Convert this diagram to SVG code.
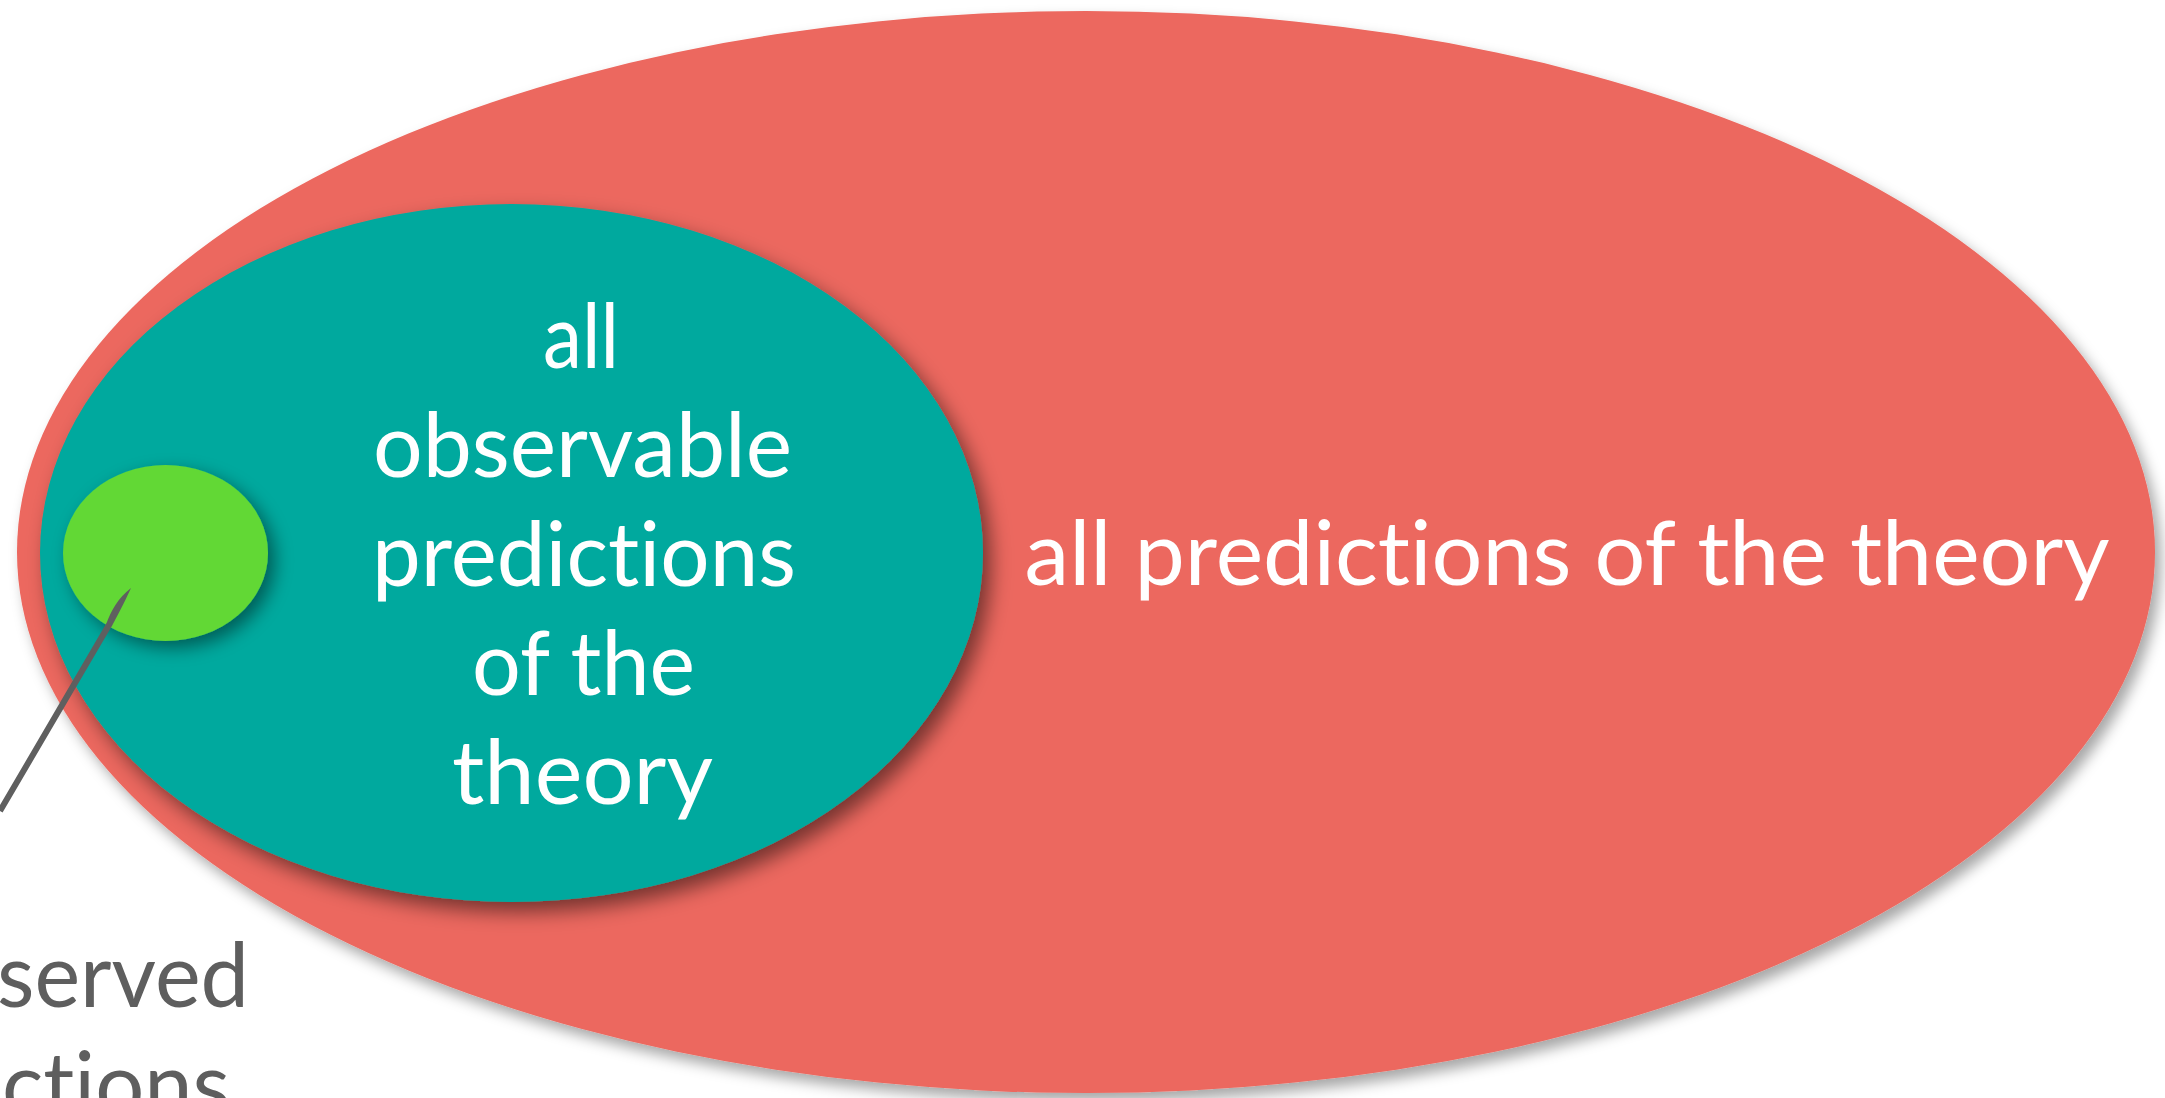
<svg xmlns="http://www.w3.org/2000/svg" width="2165" height="1098" viewBox="0 0 2165 1098">
  <defs>
    <style>
      .lbl { font-family: "Lato", "Open Sans", "Liberation Sans", sans-serif; font-size: 90px; font-variant-ligatures: none; font-feature-settings: "liga" 0, "clig" 0, "dlig" 0; }
      .white { fill: #ffffff; }
      .gray { fill: #5e5e5e; }
    </style>
    <filter id="shRed" x="-10%" y="-10%" width="120%" height="125%">
      <feDropShadow dx="6" dy="8" stdDeviation="7" flood-color="#000000" flood-opacity="0.35"/>
    </filter>
    <filter id="shTeal" x="-10%" y="-10%" width="125%" height="125%">
      <feDropShadow dx="8" dy="10" stdDeviation="10" flood-color="#000000" flood-opacity="0.5"/>
    </filter>
    <filter id="shGreen" x="-20%" y="-20%" width="145%" height="150%">
      <feDropShadow dx="7" dy="7" stdDeviation="9" flood-color="#000000" flood-opacity="0.45"/>
    </filter>
  </defs>
  <rect width="2165" height="1098" fill="#ffffff"/>

  <g id="node-all-predictions">
    <ellipse cx="1086" cy="552" rx="1069" ry="541" fill="#ec675e" filter="url(#shRed)"/>
    <text class="lbl white" x="1024.5" y="585" textLength="1085" lengthAdjust="spacingAndGlyphs">all predictions of the theory</text>
  </g>

  <g id="node-observable-predictions">
    <ellipse cx="511.5" cy="553" rx="471.5" ry="349" fill="#02a99e" filter="url(#shTeal)"/>
    <text class="lbl white" x="543" y="368" textLength="76" lengthAdjust="spacingAndGlyphs">all</text>
    <text class="lbl white" x="373" y="477" textLength="419" lengthAdjust="spacingAndGlyphs">observable</text>
    <text class="lbl white" x="372" y="586" textLength="424" lengthAdjust="spacingAndGlyphs">predictions</text>
    <text class="lbl white" x="472" y="695" textLength="223" lengthAdjust="spacingAndGlyphs">of the</text>
    <text class="lbl white" x="452" y="804" textLength="261" lengthAdjust="spacingAndGlyphs">theory</text>
  </g>

  <g id="node-observed-predictions">
    <ellipse cx="165.5" cy="553" rx="102.5" ry="88" fill="#62d836" filter="url(#shGreen)"/>
    <text class="lbl gray" x="249" y="1007" text-anchor="end" textLength="252" lengthAdjust="spacingAndGlyphs">served</text>
    <text class="lbl gray" x="230" y="1116" text-anchor="end" textLength="228" lengthAdjust="spacingAndGlyphs">ctions</text>
  </g>

  <g id="connectors">
    <path d="M -2.6,809.5 L 106.8,622.5 C 111,611 118,598 131,588 C 127,597 121,609 112.2,625.5 L 2.6,812.5 Z" fill="#5f5f5f"/>
  </g>
</svg>
